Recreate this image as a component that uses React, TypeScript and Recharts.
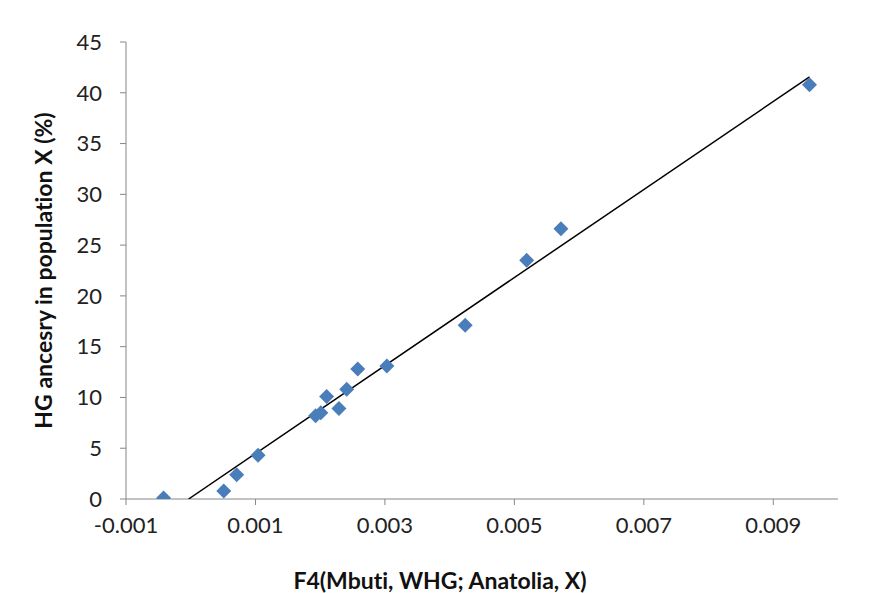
import {
  Label,
  Scatter,
  ScatterChart,
  XAxis,
  YAxis,
} from "recharts";

// F4(Mbuti, WHG; Anatolia, X) vs. HG ancestry (%)
const f4Values = [
  -0.00042, 0.00051, 0.00071, 0.00104, 0.00193, 0.00201, 0.0021, 0.00229,
  0.00241, 0.00258, 0.00303, 0.00424, 0.00519, 0.00572, 0.00956,
];
const hgAncestry = [
  0.1, 0.8, 2.4, 4.3, 8.2, 8.5, 10.1, 8.9, 10.8, 12.8, 13.1, 17.1, 23.5, 26.6,
  40.8,
];

const xTicks = [-0.001, 0.001, 0.003, 0.005, 0.007, 0.009];
const yTicks = [0, 5, 10, 15, 20, 25, 30, 35, 40, 45];

const points = f4Values.map((x, i) => ({ x, y: hgAncestry[i] }));

// least squares trendline, clipped at the bottom of the y axis
const n = points.length;
const meanX = f4Values.reduce((a, b) => a + b, 0) / n;
const meanY = hgAncestry.reduce((a, b) => a + b, 0) / n;
let sxy = 0;
let sxx = 0;
points.forEach((p) => {
  sxy += (p.x - meanX) * (p.y - meanY);
  sxx += (p.x - meanX) * (p.x - meanX);
});
const slope = sxy / sxx;
const intercept = meanY - slope * meanX;
const xStart = Math.max(Math.min(...f4Values), -intercept / slope);
const xEnd = Math.max(...f4Values);
const trend = [
  { x: xStart, y: slope * xStart + intercept },
  { x: xEnd, y: slope * xEnd + intercept },
];

const Diamond = (props: any) => {
  const { cx, cy } = props;
  const r = 7.5;
  return (
    <path
      d={`M${cx},${cy - r}L${cx + r},${cy}L${cx},${cy + r}L${cx - r},${cy}Z`}
      fill="#4a7ebb"
    />
  );
};

const axisColor = "#868686";
const font = "Lato, 'Open Sans', sans-serif";

export default function App() {
  return (
    <div style={{ position: "absolute", left: 0, top: 0, background: "#fff" }}>
      <ScatterChart
        width={869}
        height={593}
        margin={{ top: 42, right: 31, bottom: 0, left: 0 }}
        style={{ fontFamily: font, fontVariantLigatures: "none" }}
      >
        <XAxis
          type="number"
          dataKey="x"
          domain={[-0.001, 0.01]}
          ticks={xTicks}
          tickFormatter={(v) => String(v)}
          height={94}
          tickSize={6}
          tickMargin={12}
          stroke={axisColor}
          tick={{ fill: "#222", fontSize: 22 }}
          allowDataOverflow
        >
          <Label
            value="F4(Mbuti, WHG; Anatolia, X)"
            position="insideBottom"
            offset={4}
            dx={-42}
            style={{ fontWeight: "bold", fontSize: 23, fill: "#111" }}
          />
        </XAxis>
        <YAxis
          type="number"
          dataKey="y"
          domain={[0, 45]}
          ticks={yTicks}
          width={126}
          tickSize={6}
          tickMargin={18}
          stroke={axisColor}
          tick={{ fill: "#222", fontSize: 22 }}
          allowDataOverflow
        >
          <Label
            value="HG ancesry in population X (%)"
            angle={-90}
            position="insideLeft"
            offset={44}
            style={{
              textAnchor: "middle",
              fontWeight: "bold",
              fontSize: 23,
              fill: "#111",
            }}
          />
        </YAxis>
        <Scatter
          data={trend}
          line={{ stroke: "#000", strokeWidth: 1.5 }}
          shape={() => <g />}
          isAnimationActive={false}
        />
        <Scatter data={points} shape={Diamond} isAnimationActive={false} />
      </ScatterChart>
    </div>
  );
}
